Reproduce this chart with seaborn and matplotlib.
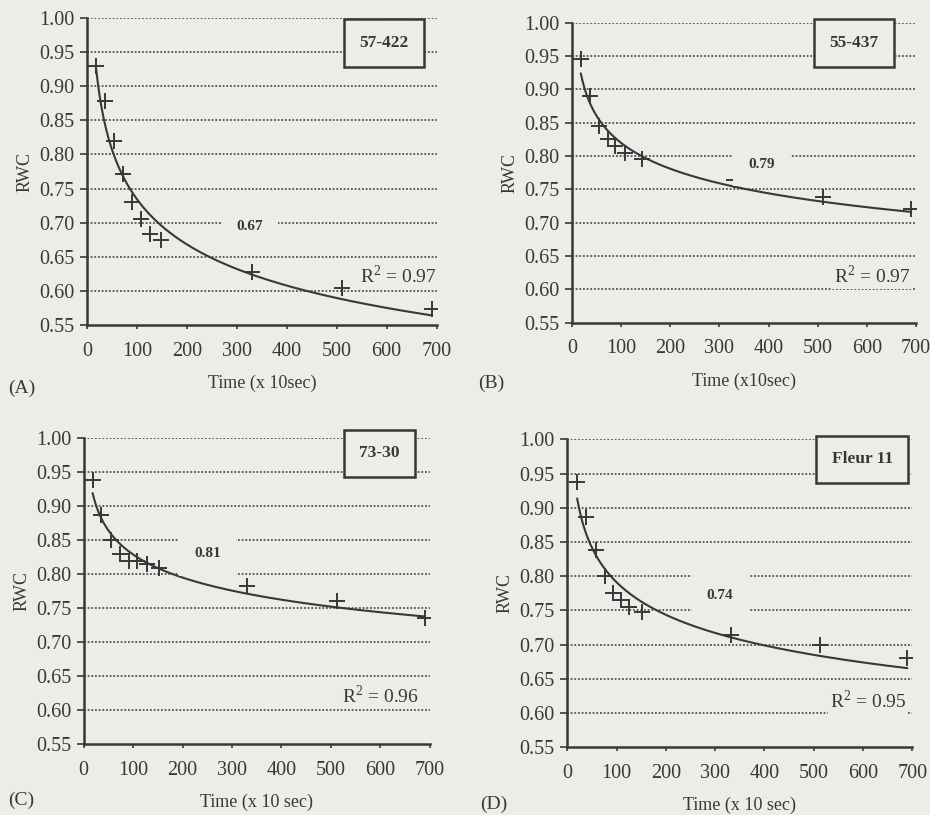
import numpy as np
import pandas as pd
import matplotlib
matplotlib.use("Agg")
import matplotlib.pyplot as plt
import seaborn as sns

# --- data ---
time_a = [18, 36, 54, 72, 90, 108, 126, 148, 330, 510, 690]
rwc_a = [0.930, 0.879, 0.820, 0.771, 0.731, 0.705, 0.684, 0.675, 0.628, 0.604, 0.574]

time_b = [18, 36, 56, 73, 88, 108, 142, 330, 510, 690]
rwc_b = [0.945, 0.890, 0.845, 0.825, 0.815, 0.805, 0.795, 0.764, 0.738, 0.720]

time_c = [18, 36, 56, 74, 92, 108, 128, 152, 330, 512, 690]
rwc_c = [0.939, 0.887, 0.851, 0.830, 0.820, 0.820, 0.815, 0.809, 0.783, 0.761, 0.735]

time_d = [20, 38, 58, 76, 92, 108, 126, 152, 332, 512, 690]
rwc_d = [0.938, 0.887, 0.839, 0.800, 0.775, 0.765, 0.755, 0.747, 0.714, 0.700, 0.680]

cultivars = ["57-422", "55-437", "73-30", "Fleur 11"]
mean_rwc = ["0.67", "0.79", "0.81", "0.74"]
r2_labels = ["R$^2$ = 0.97", "R$^2$ = 0.97", "R$^2$ = 0.96", "R$^2$ = 0.95"]
panel_letters = ["(A)", "(B)", "(C)", "(D)"]
xlabels = ["Time (x 10sec)", "Time (x10sec)", "Time (x 10 sec)", "Time (x 10 sec)"]
yticks = [0.55, 0.60, 0.65, 0.70, 0.75, 0.80, 0.85, 0.90, 0.95, 1.00]
xticks = [0, 100, 200, 300, 400, 500, 600, 700]

# --- style ---
BG = "#edece8"
INK = "#383838"
sns.set_theme(style="ticks")
plt.rcParams["font.family"] = ["Liberation Serif", "DejaVu Serif"]
plt.rcParams["text.color"] = INK
plt.rcParams["axes.labelcolor"] = INK
plt.rcParams["xtick.color"] = INK
plt.rcParams["ytick.color"] = INK
plt.rcParams["mathtext.fontset"] = "custom"
plt.rcParams["mathtext.rm"] = "Liberation Serif"

fig = plt.figure(figsize=(9.3, 8.15), dpi=100, facecolor=BG)

# axes rectangles (left, bottom, width, height) in figure fraction
rects = [
    [0.0935, 0.601, 0.376, 0.377],
    [0.615, 0.604, 0.370, 0.368],
    [0.090, 0.087, 0.372, 0.375],
    [0.610, 0.083, 0.371, 0.378],
]
series = [(time_a, rwc_a), (time_b, rwc_b), (time_c, rwc_c), (time_d, rwc_d)]
box_pos = [(0.85, 0.918), (0.82, 0.933), (0.855, 0.951), (0.855, 0.935)]
mean_pos = [(325, 0.694), (385, 0.788), (251, 0.830), (310, 0.772)]
r2_pos = [(700, 0.622), (689, 0.620), (678, 0.621), (688, 0.618)]
letter_pos = [(8, 388), (478, 383), (8, 800), (480, 804)]  # pixels from top-left

for i in range(4):
    ax = fig.add_axes(rects[i])
    ax.set_facecolor(BG)
    df = pd.DataFrame({"time": series[i][0], "rwc": series[i][1]})

    # dotted horizontal grid
    for yv in yticks[1:]:
        ax.axhline(yv, color=INK, lw=1.1, ls=(0, (1.2, 1.2)), zorder=0)

    # power trendline (as in the spreadsheet): rwc = a * time^b
    b, ln_a = np.polyfit(np.log(df["time"]), np.log(df["rwc"]), 1)
    xfit = np.linspace(df["time"].min(), df["time"].max(), 200)
    fit = pd.DataFrame({"time": xfit, "rwc": np.exp(ln_a) * xfit ** b})
    sns.lineplot(data=fit, x="time", y="rwc", ax=ax, color=INK, lw=1.5, zorder=2)

    sns.scatterplot(data=df, x="time", y="rwc", ax=ax, marker="+", color=INK,
                    s=120, linewidth=1.4, zorder=3)

    ax.set_xlim(0, 700)
    ax.set_ylim(0.55, 1.00)
    ax.set_xticks(xticks)
    ax.set_yticks(yticks)
    ax.set_yticklabels([f"{v:.2f}" for v in yticks])
    ax.tick_params(axis="both", labelsize=14.5, width=1.2)
    ax.tick_params(axis="y", length=5, direction="out", pad=4)
    ax.tick_params(axis="x", length=3, direction="out", pad=9)
    for s in ["top", "right"]:
        ax.spines[s].set_visible(False)
    for s in ["left", "bottom"]:
        ax.spines[s].set_color(INK)
        ax.spines[s].set_linewidth(1.8)

    ax.set_ylabel("RWC", fontsize=13, labelpad=4)
    ax.set_xlabel(xlabels[i], fontsize=13, labelpad=10)

    # cultivar box
    ax.text(box_pos[i][0], box_pos[i][1], cultivars[i], transform=ax.transAxes,
            ha="center", va="center", fontsize=12.5, fontweight="bold", zorder=5,
            bbox=dict(boxstyle="square,pad=0.9", facecolor=BG, edgecolor=INK, lw=1.8),
            clip_on=False)

    # mean RWC label interrupting the grid
    ax.text(mean_pos[i][0], mean_pos[i][1], mean_rwc[i], ha="center", va="center",
            fontsize=11, fontweight="bold", zorder=4,
            bbox=dict(boxstyle="square,pad=1.0", facecolor=BG, edgecolor="none"))

    # R2
    ax.text(r2_pos[i][0], r2_pos[i][1], r2_labels[i], ha="right", va="center",
            fontsize=14, zorder=4,
            bbox=dict(boxstyle="square,pad=0.1", facecolor=BG, edgecolor="none"))

    # panel letter
    fig.text(letter_pos[i][0] / 930, 1 - letter_pos[i][1] / 815, panel_letters[i],
             ha="left", va="center", fontsize=14)

fig.savefig("out.png", dpi=100, facecolor=BG)
